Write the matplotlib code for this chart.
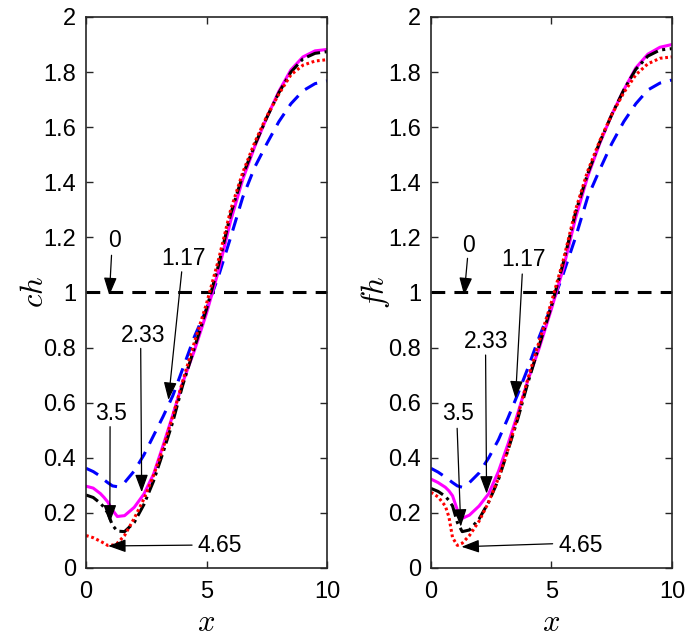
import matplotlib
matplotlib.use('Agg')
import matplotlib.pyplot as plt
from matplotlib.ticker import FuncFormatter

plt.rcParams['font.family'] = ['Liberation Sans', 'DejaVu Sans']
plt.rcParams['mathtext.fontset'] = 'cm'

# sample positions along x
xs = [0, 0.3, 0.6, 0.75, 0.9, 1.1, 1.3, 1.6, 2.0, 2.4, 2.8, 3.2, 3.6, 4.0,
      4.5, 5.0, 5.5, 6.0, 6.5, 7.0, 7.5, 8.0, 8.5, 9.0, 9.5, 10]

# ---- left panel: ch ----
ch_0 = [1.0] * len(xs)
ch_117 = [0.362, 0.350, 0.333, 0.320, 0.310, 0.298, 0.295, 0.310, 0.352, 0.410, 0.480, 0.550, 0.625,
          0.720, 0.840, 0.940, 1.060, 1.200, 1.345, 1.455, 1.540, 1.620, 1.685, 1.732, 1.758, 1.768]
ch_233 = [0.297, 0.290, 0.270, 0.256, 0.240, 0.210, 0.187, 0.190, 0.220, 0.268, 0.340, 0.445, 0.555,
          0.670, 0.790, 0.925, 1.080, 1.260, 1.410, 1.530, 1.635, 1.730, 1.808, 1.855, 1.877, 1.882]
ch_35 = [0.265, 0.256, 0.235, 0.220, 0.200, 0.155, 0.134, 0.132, 0.165, 0.230, 0.315, 0.420, 0.530,
         0.660, 0.800, 0.940, 1.100, 1.285, 1.425, 1.535, 1.635, 1.725, 1.800, 1.848, 1.868, 1.874]
ch_465 = [0.118, 0.110, 0.097, 0.090, 0.082, 0.083, 0.090, 0.118, 0.180, 0.250, 0.335, 0.435, 0.550,
          0.675, 0.820, 0.960, 1.120, 1.300, 1.435, 1.545, 1.640, 1.720, 1.790, 1.825, 1.840, 1.845]

# ---- right panel: fh ----
fh_0 = [1.0] * len(xs)
fh_117 = [0.362, 0.348, 0.330, 0.320, 0.310, 0.298, 0.293, 0.310, 0.345, 0.400, 0.465, 0.545, 0.630,
          0.720, 0.840, 0.950, 1.070, 1.200, 1.345, 1.445, 1.540, 1.620, 1.685, 1.735, 1.760, 1.771]
fh_233 = [0.323, 0.310, 0.293, 0.280, 0.262, 0.210, 0.180, 0.192, 0.225, 0.270, 0.350, 0.450, 0.560,
          0.675, 0.800, 0.940, 1.090, 1.270, 1.420, 1.540, 1.645, 1.735, 1.815, 1.865, 1.890, 1.900]
fh_35 = [0.289, 0.278, 0.260, 0.245, 0.225, 0.165, 0.132, 0.138, 0.178, 0.240, 0.320, 0.428, 0.540,
         0.665, 0.810, 0.950, 1.110, 1.290, 1.430, 1.545, 1.645, 1.735, 1.810, 1.858, 1.880, 1.885]
fh_465 = [0.275, 0.258, 0.225, 0.185, 0.110, 0.082, 0.090, 0.118, 0.170, 0.240, 0.325, 0.430, 0.550,
          0.680, 0.825, 0.965, 1.120, 1.300, 1.440, 1.550, 1.645, 1.725, 1.790, 1.830, 1.850, 1.855]

# annotation labels: (text, text pos, arrow tail, arrow head)
ch_notes = [('0', (1.2, 1.19), (1.06, 1.135), (0.97, 0.99)),
            ('1.17', (4.03, 1.125), (3.97, 1.075), (3.42, 0.61)),
            ('2.33', (2.37, 0.845), (2.27, 0.797), (2.31, 0.275)),
            ('3.5', (1.06, 0.561), (1.0, 0.513), (0.99, 0.165)),
            ('4.65', (5.55, 0.08), (4.4, 0.083), (0.92, 0.08))]
fh_notes = [('0', (1.55, 1.172), (1.52, 1.124), (1.38, 0.99)),
            ('1.17', (3.83, 1.118), (3.79, 1.067), (3.51, 0.615)),
            ('2.33', (2.31, 0.821), (2.27, 0.773), (2.31, 0.27)),
            ('3.5', (1.13, 0.561), (1.09, 0.507), (1.24, 0.15)),
            ('4.65', (6.2, 0.08), (5.05, 0.088), (1.27, 0.077))]

styles = [dict(color='k', dashes=(4.5, 3)),
          dict(color='#0000ff', dashes=(4.5, 3)),
          dict(color='#ff00ff', linestyle='-'),
          dict(color='k', dashes=(4.5, 1.5, 1, 1.5)),
          dict(color='#ff0000', dashes=(0.9, 0.9))]

fig = plt.figure(figsize=(6.85, 6.4), dpi=100)
ax1 = fig.add_axes([0.1255, 0.1125, 0.352, 0.861])
ax2 = fig.add_axes([0.629, 0.1125, 0.352, 0.861])

panels = [(ax1, [ch_0, ch_117, ch_233, ch_35, ch_465], ch_notes, '$ch$', -0.15),
          (ax2, [fh_0, fh_117, fh_233, fh_35, fh_465], fh_notes, '$fh$', -0.16)]

fmt = FuncFormatter(lambda v, p: '%g' % round(v, 2))

for ax, series, notes, ylab, ylab_x in panels:
    for ys, st in zip(series, styles):
        ax.plot(xs, ys, lw=2.2, **st)
    for txt, tpos, tail, head in notes:
        ax.annotate('', xy=head, xytext=tail,
                    arrowprops=dict(arrowstyle='-|>,head_length=0.6,head_width=0.22',
                                    color='k', lw=0.9, mutation_scale=18,
                                    shrinkA=0, shrinkB=0))
        ax.text(tpos[0], tpos[1], txt, fontsize=16.5, ha='center', va='center')
    ax.set_xlim(0, 10)
    ax.set_ylim(0, 2)
    ax.set_xticks([0, 5, 10])
    ax.set_yticks([0, 0.2, 0.4, 0.6, 0.8, 1, 1.2, 1.4, 1.6, 1.8, 2])
    ax.yaxis.set_major_formatter(fmt)
    ax.tick_params(direction='in', length=5, width=1, top=True, right=True,
                   labelsize=17, color='#262626', pad=7)
    ax.tick_params(axis='x', pad=9)
    for s in ax.spines.values():
        s.set_linewidth(1.2)
        s.set_color('#262626')
    ax.set_xlabel('$x$', fontsize=22, labelpad=4)
    ax.set_ylabel(ylab, fontsize=22)
    ax.yaxis.set_label_coords(ylab_x, 0.5)

fig.savefig('out.png', dpi=100)
